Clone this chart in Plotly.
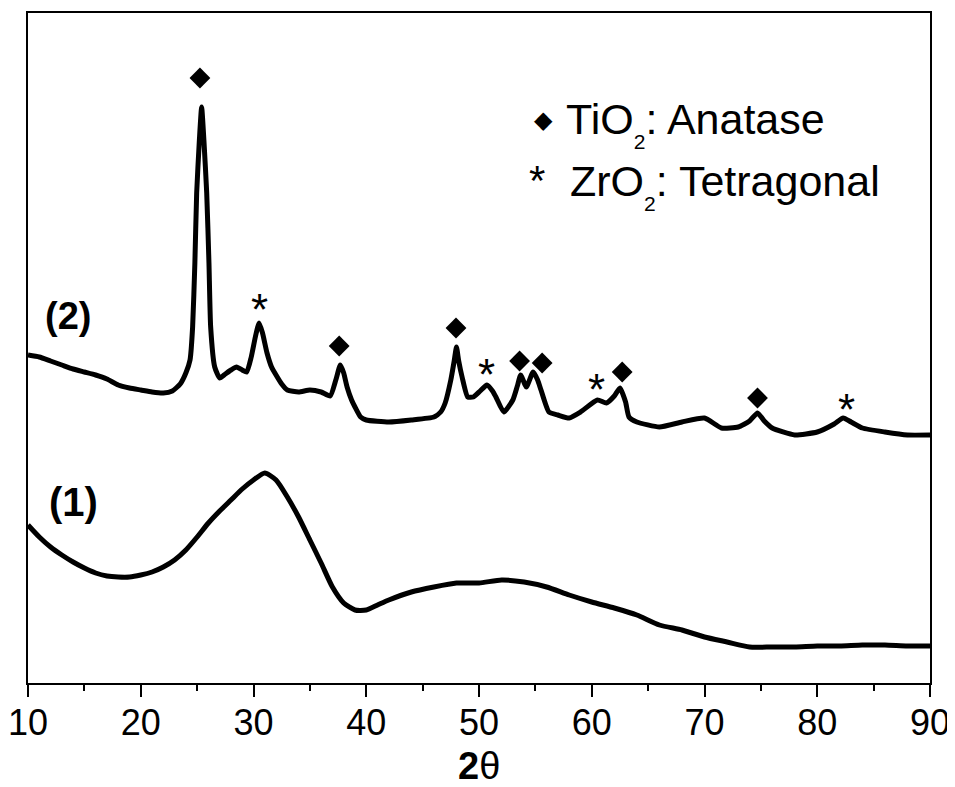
import plotly.graph_objects as go

# ---- data (2theta in degrees, intensity in arbitrary units) ----
two_theta_2 = [10, 11, 12, 13, 14, 15, 16, 17, 18, 19, 20, 21, 22, 22.8, 23.5, 24, 24.37, 24.6,
               24.8, 24.96, 25.2, 25.4, 25.6, 25.85, 26.05, 26.2, 26.56, 27, 27.5, 28, 28.5,
               29, 29.4, 29.8, 30.2, 30.5, 30.8, 31.2, 31.6, 32, 32.5, 33, 34, 35, 36, 36.8,
               37.3, 37.7, 38.0, 38.3, 38.7, 39, 39.5, 40, 42, 44, 46, 46.6, 47, 47.5, 47.8,
               48, 48.2, 48.5, 49, 49.5, 50.1, 50.7, 51.2, 51.5, 52.2, 53, 53.4, 53.7, 54.2,
               54.8, 55.2, 55.5, 56.2, 57, 58, 59, 60.5, 61.3, 62, 62.5, 63, 63.3, 64, 66, 68,
               70, 71.5, 73, 74, 74.7, 75.3, 76, 78, 80, 81.5, 82.3, 83, 84, 86, 88, 90]
intensity_2 = [328, 326, 322, 318, 314, 311, 308, 304, 298, 295, 293, 291, 290, 292, 299, 310,
               323, 356, 420, 490, 543, 576, 543, 490, 420, 356, 316, 305, 309, 313, 316,
               313, 311, 326, 348, 360, 350, 330, 316, 308, 299, 293, 291, 293, 291, 287,
               303, 318, 310, 296, 283, 276, 266, 263, 261, 263, 266, 271, 280, 303, 322,
               336, 322, 306, 286, 286, 292, 298, 292, 286, 271, 283, 297, 308, 296,
               311, 303, 293, 271, 268, 265, 271, 283, 280, 287, 295, 281, 266, 261, 256, 261,
               265, 255, 256, 262, 270, 262, 255, 248, 251, 259, 265, 261, 255, 251, 248, 248]

two_theta_1 = [10, 11, 12, 13, 14, 15, 16, 17, 18, 19, 20, 21, 22, 23, 24, 25, 26, 27, 28, 29,
               30, 31, 32, 33, 34, 35, 36, 37, 38, 39, 40, 41, 42, 44, 46, 48, 50, 52, 54, 56,
               58, 60, 62, 64, 66, 68, 70, 72, 74, 76, 78, 80, 82, 84, 86, 88, 90]
intensity_1 = [158, 146, 136, 128, 121, 115, 110, 107, 106, 106, 108, 111, 116, 123, 133, 146,
               160, 172, 183, 194, 203, 210, 203, 186, 166, 143, 120, 96, 80, 73, 73, 78, 83,
               91, 96, 100, 100, 103, 101, 96, 88, 81, 75, 68, 58, 53, 46, 41, 36, 36, 36,
               37, 37, 38, 38, 37, 37]

anatase_2theta = [25.25, 37.6, 47.96, 53.6, 55.6, 62.7, 74.7]
anatase_mark_y = [605, 337, 355, 322, 320, 311, 285]
zirconia_2theta = [30.5, 50.7, 60.4, 82.6]
zirconia_mark_y = [383, 318, 303, 283]

x_ticks = [10, 20, 30, 40, 50, 60, 70, 80, 90]

FONT = "Liberation Sans, Arial, Helvetica, sans-serif"

# The page body keeps its default 8px margin, so the figure is sized to fit the
# 955x787 window without scrollbars and offset so the plot lands like the reference.
FIG_W, FIG_H = 947, 771
L, T = 20, 5
PLOT_W, PLOT_H = 902, 670

fig = go.Figure()
fig.add_trace(go.Scatter(x=two_theta_2, y=intensity_2, mode="lines",
                         line=dict(color="black", width=5, shape="spline", smoothing=0.5),
                         showlegend=False))
fig.add_trace(go.Scatter(x=two_theta_1, y=intensity_1, mode="lines",
                         line=dict(color="black", width=5, shape="spline", smoothing=0.6),
                         showlegend=False))
fig.add_trace(go.Scatter(x=anatase_2theta, y=anatase_mark_y, mode="markers",
                         marker=dict(symbol="diamond", size=16, color="black"),
                         showlegend=False))

annotations = []
for xv, yv in zip(zirconia_2theta, zirconia_mark_y):
    annotations.append(dict(x=xv, y=yv, xref="x", yref="y", text="*", showarrow=False,
                            font=dict(family=FONT, size=44, color="black"),
                            xanchor="center", yanchor="middle", yshift=-9))

def px(xp):
    return (xp - 28) / PLOT_W

def py(yp):
    return (683 - yp) / PLOT_H

annotations += [
    dict(x=px(543), y=py(120), xref="paper", yref="paper", text="◆", showarrow=False,
         font=dict(family="DejaVu Sans", size=24, color="black"), xanchor="center", yanchor="middle"),
    dict(x=px(564), y=py(124), xref="paper", yref="paper",
         text='TiO<sub><sub>2</sub></sub>: Anatase', showarrow=False,
         font=dict(family=FONT, size=43, color="black"), xanchor="left", yanchor="middle"),
    dict(x=px(537), y=py(172), xref="paper", yref="paper", text="*", showarrow=False,
         font=dict(family=FONT, size=42, color="black"), xanchor="center", yanchor="middle", yshift=-9),
    dict(x=px(568), y=py(186), xref="paper", yref="paper",
         text='ZrO<sub><sub>2</sub></sub>: Tetragonal', showarrow=False,
         font=dict(family=FONT, size=43, color="black"), xanchor="left", yanchor="middle"),
    dict(x=px(68), y=py(316), xref="paper", yref="paper", text="<b>(2)</b>", showarrow=False,
         font=dict(family=FONT, size=38, color="black"), xanchor="center", yanchor="middle"),
    dict(x=px(73), y=py(502), xref="paper", yref="paper", text="<b>(1)</b>", showarrow=False,
         font=dict(family=FONT, size=40, color="black"), xanchor="center", yanchor="middle"),
    # x-axis title
    dict(x=px(479), y=py(766), xref="paper", yref="paper", text="<b>2</b>θ", showarrow=False,
         font=dict(family=FONT, size=38, color="black"), xanchor="center", yanchor="middle"),
]

fig.update_layout(
    width=FIG_W, height=FIG_H,
    margin=dict(l=L, r=FIG_W - L - PLOT_W, t=T, b=FIG_H - T - PLOT_H, pad=0, autoexpand=False),
    paper_bgcolor="white", plot_bgcolor="white",
    font=dict(family=FONT, color="black"),
    annotations=annotations,
    xaxis=dict(range=[10, 90], tickvals=x_ticks, ticktext=[str(v) for v in x_ticks],
               automargin=False, ticklabelstandoff=-5, ticklabeloverflow="allow",
               ticks="outside", ticklen=12, tickwidth=2, tickcolor="black",
               minor=dict(dtick=5, tick0=10, ticks="outside", ticklen=6, tickwidth=2, tickcolor="black"),
               showline=True, linecolor="black", linewidth=2, mirror=True,
               showgrid=False, zeroline=False,
               tickfont=dict(family=FONT, size=36, color="black")),
    yaxis=dict(range=[0, 670], showticklabels=False, ticks="", automargin=False,
               showline=True, linecolor="black", linewidth=2, mirror=True,
               showgrid=False, zeroline=False),
)

fig.write_html("out.html")
